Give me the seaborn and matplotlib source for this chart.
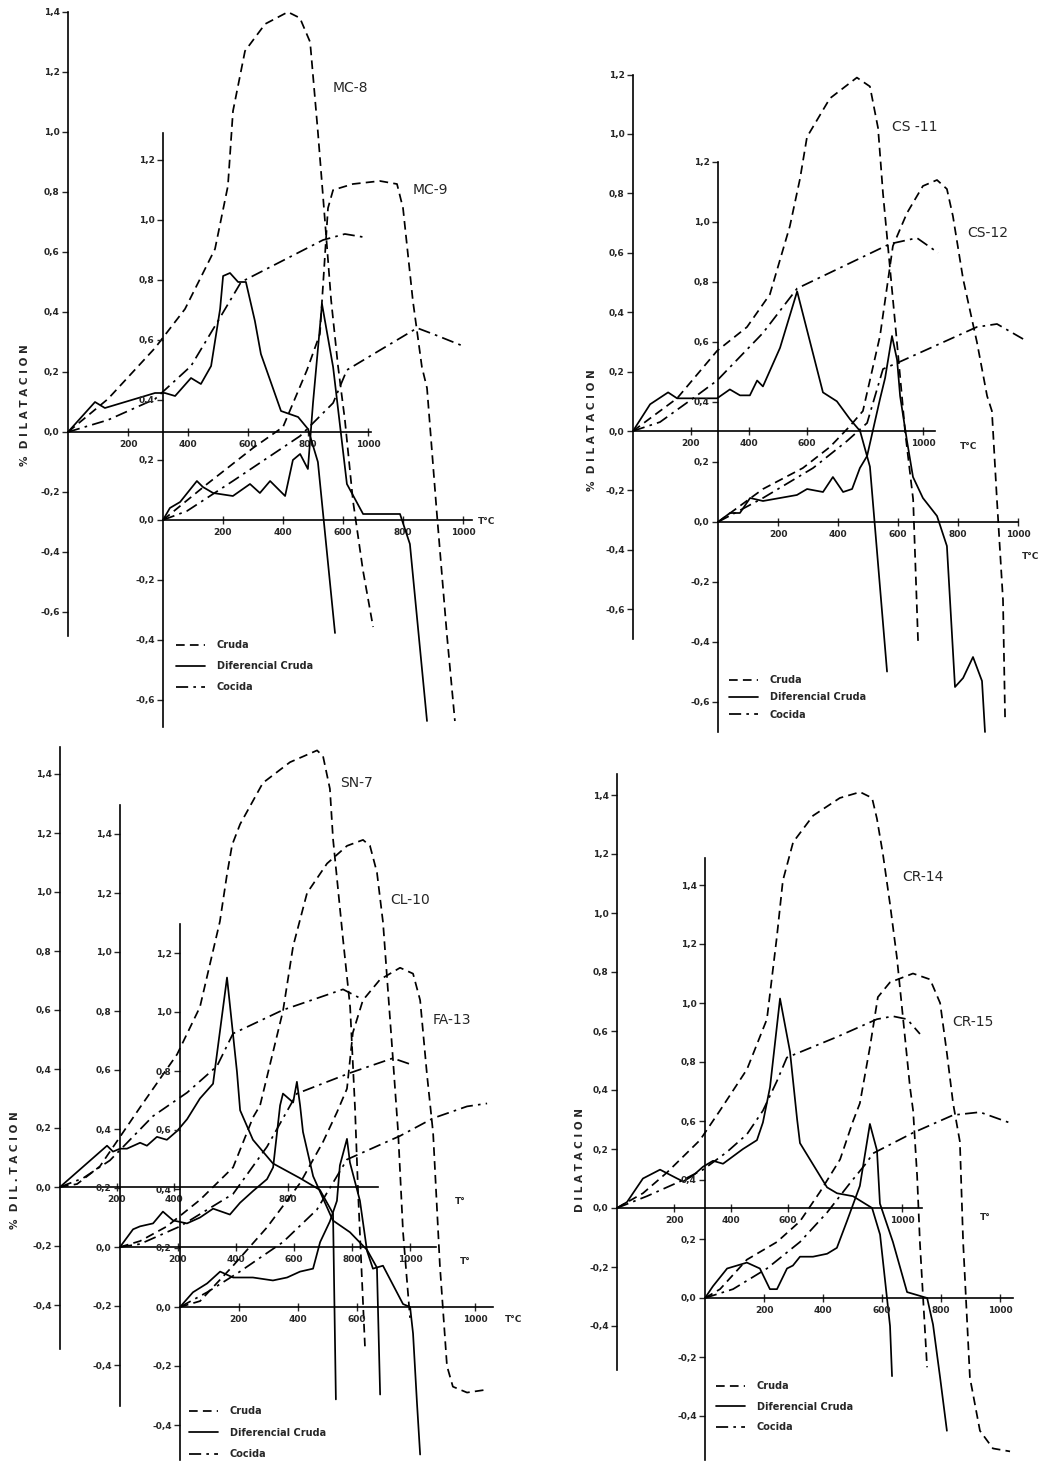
import numpy as np
import pandas as pd
import seaborn as sns
import matplotlib.pyplot as plt
from matplotlib.lines import Line2D

# ---------------- data: temperatura (C) y % dilatacion ----------------
# MC-8
mc8_cruda_t = [0, 133, 290, 390, 490, 533, 550, 590, 657, 733, 773, 807, 833, 860, 877, 900, 923, 950, 983, 1017]
mc8_cruda_v = [0, 0.11, 0.28, 0.41, 0.61, 0.82, 1.07, 1.27, 1.36, 1.40, 1.38, 1.30, 1.00, 0.66, 0.44, 0.22, 0.04, -0.23, -0.46, -0.65]
mc8_dif_t = [0, 90, 123, 290, 323, 357, 410, 443, 477, 507, 517, 540, 567, 593, 623, 643, 710, 767, 800, 833, 890]
mc8_dif_v = [0, 0.10, 0.08, 0.13, 0.13, 0.12, 0.18, 0.16, 0.22, 0.41, 0.52, 0.53, 0.50, 0.50, 0.37, 0.26, 0.07, 0.05, 0.01, -0.10, -0.67]
mc8_coc_t = [0, 133, 290, 410, 500, 577, 850, 923, 983]
mc8_coc_v = [0, 0.04, 0.11, 0.22, 0.37, 0.50, 0.64, 0.66, 0.65]
# MC-9
mc9_cruda_t = [0, 147, 300, 400, 480, 523, 550, 567, 633, 723, 780, 800, 833, 863, 880, 913, 947, 973]
mc9_cruda_v = [0, 0.12, 0.24, 0.31, 0.50, 0.62, 1.04, 1.10, 1.12, 1.13, 1.12, 1.04, 0.73, 0.51, 0.44, 0.02, -0.39, -0.67]
mc9_dif_t = [0, 23, 57, 113, 133, 167, 233, 290, 323, 357, 407, 433, 457, 483, 500, 530, 567, 613, 667, 790, 823, 880]
mc9_dif_v = [0, 0.04, 0.06, 0.13, 0.11, 0.09, 0.08, 0.12, 0.09, 0.13, 0.08, 0.20, 0.22, 0.17, 0.39, 0.72, 0.51, 0.12, 0.02, 0.02, -0.08, -0.67]
mc9_coc_t = [0, 80, 233, 457, 567, 613, 713, 847, 900, 1000]
mc9_coc_v = [0, 0.03, 0.13, 0.28, 0.39, 0.50, 0.56, 0.64, 0.62, 0.58]
# CS-11
cs11_cruda_t = [0, 152, 290, 393, 472, 541, 576, 600, 679, 772, 817, 845, 862, 886, 910, 928, 938, 966, 983]
cs11_cruda_v = [0, 0.11, 0.27, 0.35, 0.46, 0.69, 0.85, 0.99, 1.12, 1.19, 1.16, 1.02, 0.80, 0.55, 0.30, 0.11, 0.00, -0.23, -0.71]
cs11_dif_t = [0, 59, 121, 152, 186, 221, 290, 334, 369, 403, 428, 448, 507, 566, 655, 703, 748, 783, 817, 876]
cs11_dif_v = [0, 0.09, 0.13, 0.11, 0.11, 0.11, 0.11, 0.14, 0.12, 0.12, 0.17, 0.15, 0.28, 0.47, 0.13, 0.10, 0.04, 0.00, -0.12, -0.81]
cs11_coc_t = [0, 93, 207, 290, 448, 566, 886, 979, 1052]
cs11_coc_v = [0, 0.03, 0.11, 0.17, 0.33, 0.48, 0.63, 0.65, 0.60]
# CS-12
cs12_cruda_t = [0, 150, 283, 373, 440, 483, 540, 583, 630, 683, 730, 763, 783, 817, 863, 897, 913, 930, 950, 957]
cs12_cruda_v = [0, 0.11, 0.18, 0.25, 0.32, 0.37, 0.62, 0.92, 1.03, 1.12, 1.14, 1.11, 1.02, 0.81, 0.60, 0.42, 0.37, 0.07, -0.26, -0.66]
cs12_dif_t = [0, 40, 73, 107, 150, 263, 297, 350, 383, 417, 447, 473, 497, 540, 557, 580, 597, 607, 630, 650, 683, 730, 763, 790, 817, 850, 880, 890]
cs12_dif_v = [0, 0.03, 0.03, 0.08, 0.07, 0.09, 0.11, 0.10, 0.15, 0.10, 0.11, 0.18, 0.22, 0.41, 0.48, 0.62, 0.54, 0.42, 0.27, 0.15, 0.08, 0.02, -0.08, -0.55, -0.52, -0.45, -0.53, -0.70]
cs12_coc_t = [0, 150, 317, 430, 497, 550, 597, 863, 930, 1017]
cs12_coc_v = [0, 0.08, 0.18, 0.27, 0.33, 0.51, 0.53, 0.65, 0.66, 0.61]
# SN-7
sn7_cruda_t = [0, 60, 140, 281, 411, 491, 561, 586, 604, 632, 712, 807, 902, 923, 947, 958, 993, 1018, 1035, 1046, 1070]
sn7_cruda_v = [0, 0.01, 0.07, 0.27, 0.45, 0.61, 0.90, 1.06, 1.16, 1.23, 1.37, 1.44, 1.48, 1.46, 1.35, 1.18, 0.84, 0.61, 0.27, -0.02, -0.54]
sn7_dif_t = [0, 165, 186, 211, 235, 281, 305, 340, 375, 411, 446, 491, 537, 586, 621, 632, 677, 747, 842, 912, 958, 968]
sn7_dif_v = [0, 0.14, 0.12, 0.13, 0.13, 0.15, 0.14, 0.17, 0.16, 0.19, 0.23, 0.30, 0.35, 0.71, 0.39, 0.26, 0.16, 0.08, 0.03, -0.01, -0.09, -0.72]
sn7_coc_t = [0, 81, 175, 326, 446, 551, 607, 782, 993, 1053]
sn7_coc_v = [0, 0.03, 0.09, 0.24, 0.32, 0.41, 0.52, 0.60, 0.67, 0.64]
# CL-10
cl10_cruda_t = [0, 69, 162, 276, 390, 459, 483, 562, 597, 645, 714, 783, 838, 862, 886, 907, 924, 941, 959, 976, 1000]
cl10_cruda_v = [0, 0.02, 0.07, 0.16, 0.27, 0.44, 0.48, 0.80, 1.02, 1.20, 1.30, 1.36, 1.38, 1.36, 1.27, 1.10, 0.87, 0.64, 0.39, 0.05, -0.24]
cl10_dif_t = [0, 45, 69, 114, 148, 183, 231, 276, 321, 379, 414, 459, 507, 528, 552, 562, 597, 610, 621, 631, 666, 734, 793, 852, 886, 897]
cl10_dif_v = [0, 0.06, 0.07, 0.08, 0.12, 0.09, 0.08, 0.10, 0.13, 0.11, 0.15, 0.19, 0.23, 0.27, 0.48, 0.52, 0.49, 0.56, 0.48, 0.39, 0.24, 0.09, 0.05, -0.01, -0.07, -0.50]
cl10_coc_t = [0, 69, 207, 390, 507, 610, 793, 941, 1000]
cl10_coc_v = [0, 0.01, 0.07, 0.18, 0.34, 0.52, 0.59, 0.64, 0.62]
# FA-13
fa13_cruda_t = [0, 68, 180, 295, 407, 485, 532, 566, 586, 620, 678, 746, 790, 814, 837, 858, 881, 905, 925, 973, 1041]
fa13_cruda_v = [0, 0.02, 0.14, 0.27, 0.42, 0.56, 0.66, 0.74, 0.93, 1.04, 1.11, 1.15, 1.13, 1.04, 0.79, 0.59, 0.14, -0.20, -0.27, -0.29, -0.28]
fa13_dif_t = [0, 44, 92, 136, 180, 247, 315, 363, 407, 451, 475, 508, 532, 542, 566, 576, 610, 634, 654, 688, 756, 780, 790, 803, 814]
fa13_dif_v = [0, 0.05, 0.08, 0.12, 0.10, 0.10, 0.09, 0.10, 0.12, 0.13, 0.22, 0.29, 0.36, 0.48, 0.57, 0.49, 0.36, 0.19, 0.13, 0.14, 0.01, 0.00, -0.09, -0.32, -0.50]
fa13_coc_t = [0, 92, 203, 349, 464, 566, 746, 858, 973, 1041]
fa13_coc_v = [0, 0.05, 0.12, 0.22, 0.33, 0.50, 0.58, 0.64, 0.68, 0.69]
# CR-14
cr14_cruda_t = [0, 91, 175, 291, 361, 456, 526, 561, 582, 618, 688, 782, 853, 895, 912, 933, 958, 982, 1004, 1028, 1039, 1053, 1063, 1088]
cr14_cruda_v = [0, 0.05, 0.12, 0.23, 0.33, 0.47, 0.64, 0.92, 1.11, 1.24, 1.33, 1.39, 1.41, 1.39, 1.32, 1.20, 1.03, 0.85, 0.64, 0.41, 0.33, 0.11, -0.12, -0.54]
cr14_dif_t = [0, 35, 91, 151, 211, 232, 267, 302, 337, 372, 442, 491, 512, 537, 572, 607, 632, 642, 737, 772, 828, 895, 923, 958, 965]
cr14_dif_v = [0, 0.02, 0.10, 0.13, 0.10, 0.09, 0.11, 0.14, 0.16, 0.15, 0.20, 0.23, 0.29, 0.41, 0.71, 0.53, 0.30, 0.22, 0.07, 0.05, 0.04, 0.00, -0.09, -0.40, -0.57]
cr14_coc_t = [0, 105, 221, 302, 386, 456, 512, 561, 596, 772, 912, 968, 1018, 1063]
cr14_coc_v = [0, 0.04, 0.09, 0.13, 0.19, 0.25, 0.33, 0.43, 0.51, 0.58, 0.64, 0.65, 0.64, 0.59]
# CR-15
cr15_cruda_t = [0, 51, 142, 244, 322, 390, 458, 502, 525, 559, 586, 627, 705, 763, 797, 820, 841, 864, 875, 898, 932, 976, 1034]
cr15_cruda_v = [0, 0.03, 0.13, 0.19, 0.26, 0.36, 0.47, 0.60, 0.66, 0.85, 1.02, 1.07, 1.10, 1.08, 1.00, 0.83, 0.66, 0.53, 0.19, -0.27, -0.45, -0.51, -0.52]
cr15_dif_t = [0, 27, 75, 142, 186, 220, 244, 278, 298, 322, 366, 414, 447, 481, 525, 559, 583, 593, 637, 685, 753, 773, 797, 820]
cr15_dif_v = [0, 0.04, 0.10, 0.12, 0.10, 0.03, 0.03, 0.10, 0.11, 0.14, 0.14, 0.15, 0.17, 0.26, 0.38, 0.59, 0.50, 0.32, 0.19, 0.02, 0.00, -0.09, -0.27, -0.45]
cr15_coc_t = [0, 95, 210, 322, 414, 492, 549, 569, 705, 841, 932, 1044]
cr15_coc_v = [0, 0.03, 0.10, 0.19, 0.29, 0.39, 0.46, 0.49, 0.56, 0.62, 0.63, 0.59]

leyenda = ["Cruda", "Diferencial Cruda", "Cocida"]

# ---------------- layout (pixel origin of each offset axis) ----------------
W, H = 1059, 1465
# name: (x0, y0, px per C, px per 1%, ybounds, yticks lo/hi, xbound, xticks)
ejes = {
    "MC-8": (68, 432, 0.30, 300, (-0.68, 1.40), (-0.6, 1.4), 1010, [200, 400, 600, 800, 1000]),
    "MC-9": (163, 520, 0.30, 300, (-0.69, 1.29), (-0.6, 1.2), 1030, [200, 400, 600, 800, 1000]),
    "CS-11": (633, 431, 0.29, 297, (-0.70, 1.20), (-0.6, 1.2), 1040, [200, 400, 600, 1000]),
    "CS-12": (718, 522, 0.30, 300, (-0.70, 1.20), (-0.6, 1.2), 1000, [200, 400, 600, 800, 1000]),
    "SN-7": (60, 1187, 0.285, 295, (-0.55, 1.49), (-0.4, 1.4), 1116, [200, 400, 800]),
    "CL-10": (120, 1247, 0.29, 295, (-0.54, 1.50), (-0.4, 1.4), 1090, [200, 400, 600, 800, 1000]),
    "FA-13": (180, 1307, 0.295, 295, (-0.52, 1.30), (-0.4, 1.2), 1060, [200, 400, 600, 1000]),
    "CR-14": (617, 1208, 0.285, 295, (-0.55, 1.47), (-0.4, 1.4), 1070, [200, 400, 600, 1000]),
    "CR-15": (705, 1298, 0.295, 295, (-0.55, 1.49), (-0.4, 1.4), 1045, [200, 400, 600, 800, 1000]),
}
curvas = {
    "MC-8": [(mc8_cruda_t, mc8_cruda_v), (mc8_dif_t, mc8_dif_v), (mc8_coc_t, mc8_coc_v)],
    "MC-9": [(mc9_cruda_t, mc9_cruda_v), (mc9_dif_t, mc9_dif_v), (mc9_coc_t, mc9_coc_v)],
    "CS-11": [(cs11_cruda_t, cs11_cruda_v), (cs11_dif_t, cs11_dif_v), (cs11_coc_t, cs11_coc_v)],
    "CS-12": [(cs12_cruda_t, cs12_cruda_v), (cs12_dif_t, cs12_dif_v), (cs12_coc_t, cs12_coc_v)],
    "SN-7": [(sn7_cruda_t, sn7_cruda_v), (sn7_dif_t, sn7_dif_v), (sn7_coc_t, sn7_coc_v)],
    "CL-10": [(cl10_cruda_t, cl10_cruda_v), (cl10_dif_t, cl10_dif_v), (cl10_coc_t, cl10_coc_v)],
    "FA-13": [(fa13_cruda_t, fa13_cruda_v), (fa13_dif_t, fa13_dif_v), (fa13_coc_t, fa13_coc_v)],
    "CR-14": [(cr14_cruda_t, cr14_cruda_v), (cr14_dif_t, cr14_dif_v), (cr14_coc_t, cr14_coc_v)],
    "CR-15": [(cr15_cruda_t, cr15_cruda_v), (cr15_dif_t, cr15_dif_v), (cr15_coc_t, cr15_coc_v)],
}
estilos = [(0, (5, 3)), "-", (0, (7, 3, 1.5, 3))]

sns.set_style("white")
plt.rcParams['font.family'] = ['DejaVu Sans']

fig = plt.figure(figsize=(W / 100, H / 100), dpi=100)


def coma(v):
    return ("%.1f" % v).replace(".", ",")


for nombre, (x0, y0, sx, sy, yb, yt, xb, xt) in ejes.items():
    ax = fig.add_axes([0, 0, 1, 1])
    ax.patch.set_alpha(0)
    ax.set_xlim(-x0 / sx, (W - x0) / sx)
    ax.set_ylim((y0 - H) / sy, y0 / sy)
    for (t, v), ls in zip(curvas[nombre], estilos):
        sns.lineplot(x=t, y=v, ax=ax, sort=False, estimator=None,
                     color="black", lw=1.25, linestyle=ls)
    for s in ["top", "right"]:
        ax.spines[s].set_visible(False)
    ax.spines["left"].set_position(("data", 0))
    ax.spines["bottom"].set_position(("data", 0))
    ax.spines["left"].set_bounds(*yb)
    ax.spines["bottom"].set_bounds(0, xb)
    for s in ["left", "bottom"]:
        ax.spines[s].set_linewidth(1.2)
        ax.spines[s].set_color("black")
    yv = np.round(np.arange(yt[0], yt[1] + 0.01, 0.2), 1)
    ax.set_yticks(yv)
    ax.set_yticklabels([coma(v) for v in yv])
    ax.set_xticks(xt)
    ax.set_xticklabels([str(t) for t in xt])
    ax.tick_params(axis="y", direction="out", length=4, width=1, labelsize=6.5, pad=2, left=True)
    ax.tick_params(axis="x", direction="inout", length=6, width=1, labelsize=6.5, pad=3, bottom=True)
    for lab in ax.get_xticklabels() + ax.get_yticklabels():
        lab.set_fontweight("bold")
    ax.set_xlabel("")
    ax.set_ylabel("")

# nombres de las probetas
rotulos = [("MC-8", 333, 88), ("MC-9", 413, 190), ("CS -11", 892, 127), ("CS-12", 967, 233),
           ("SN-7", 340, 783), ("CL-10", 390, 900), ("FA-13", 433, 1020),
           ("CR-14", 902, 877), ("CR-15", 952, 1022)]
for txt, px, py in rotulos:
    fig.text(px / W, 1 - py / H, txt, fontsize=10, ha="left", va="center")

# T C labels at the end of the x axes
for txt, px, py in [("T°C", 478, 522), ("T°C", 960, 446), ("T°C", 1022, 556),
                    ("T°", 455, 1202), ("T°", 460, 1262), ("T°C", 505, 1320), ("T°", 980, 1218)]:
    fig.text(px / W, 1 - py / H, txt, fontsize=6.5, fontweight="bold", ha="left", va="center")

# ylabels
for txt, px, py in [("%  D I L A T A C I O N", 25, 405), ("%  D I L A T A C I O N", 592, 430),
                    ("%  D I L . T A C I O N", 15, 1170), ("D I L A T A C I O N", 580, 1160)]:
    fig.text(px / W, 1 - py / H, txt, fontsize=7.5, fontweight="bold", rotation=90,
             ha="center", va="center")

# leyendas
handles = [Line2D([], [], color="black", lw=1.25, linestyle=ls) for ls in estilos]
for px, py, sp in [(176, 640, 1.15), (729, 675, 0.75), (189, 1406, 1.2), (716, 1381, 1.1)]:
    fig.legend(handles, leyenda, loc="upper left", bbox_to_anchor=(px / W, 1 - py / H),
               bbox_transform=fig.transFigure, frameon=False, fontsize=7, handlelength=3,
               handletextpad=1.2, labelspacing=sp, borderpad=0, borderaxespad=0,
               prop={"weight": "bold", "size": 7})

fig.savefig("out.png", dpi=100, facecolor="white")
